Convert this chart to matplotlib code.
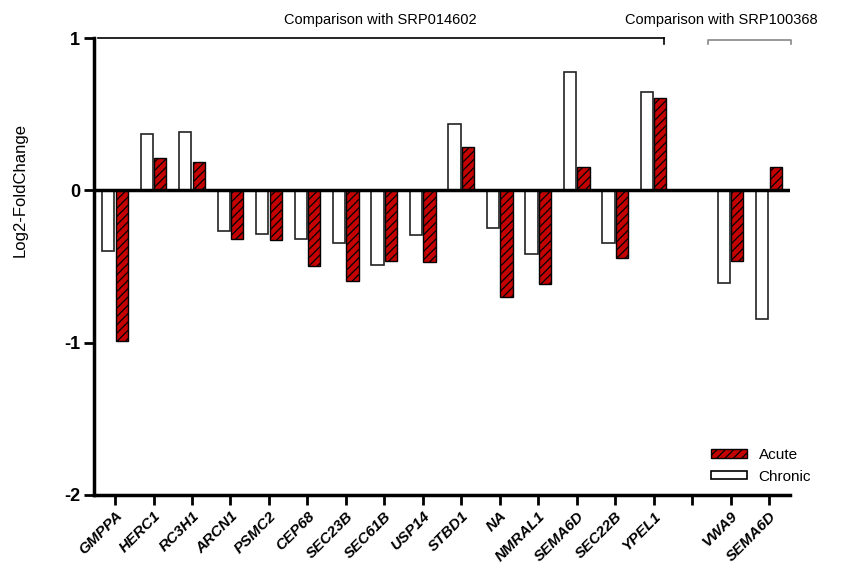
import matplotlib
matplotlib.use('Agg')
from matplotlib import pyplot as plt
from matplotlib.patches import Patch

plt.rcParams['font.family'] = ['Liberation Sans', 'DejaVu Sans']
plt.rcParams['hatch.linewidth'] = 0.9

genes = ['GMPPA', 'HERC1', 'RC3H1', 'ARCN1', 'PSMC2', 'CEP68', 'SEC23B', 'SEC61B',
         'USP14', 'STBD1', 'NA', 'NMRAL1', 'SEMA6D', 'SEC22B', 'YPEL1', 'VWA9', 'SEMA6D']

chronic = [-0.395, 0.367, 0.38, -0.268, -0.286, -0.317, -0.345, -0.493,
           -0.296, 0.438, -0.248, -0.42, 0.778, -0.347, 0.643, -0.606, -0.847]
acute = [-0.99, 0.214, 0.188, -0.319, -0.325, -0.496, -0.592, -0.467,
         -0.473, 0.287, -0.70, -0.613, 0.156, -0.445, 0.606, -0.464, 0.156]

# first 15 genes vs SRP014602, last 2 vs SRP100368 (one empty slot between)
pos = list(range(15)) + [16, 17]
tick_labels = genes[:15] + [''] + genes[15:]

red = '#c40000'
w = 0.32

fig, ax = plt.subplots(figsize=(8.46, 5.63), dpi=100)
fig.subplots_adjust(left=0.111, right=0.934, top=0.9325, bottom=0.1208)

ax.bar([p - 0.175 for p in pos], chronic, width=w, color='white',
       edgecolor='#222222', linewidth=1.2, zorder=2)
ax.bar([p + 0.175 for p in pos], acute, width=w, color=red,
       edgecolor='black', linewidth=1.0, hatch='////', zorder=2)

ax.axhline(0, color='black', lw=2.5, zorder=3)

ax.set_xlim(-0.55, 17.55)
ax.set_ylim(-2, 1)
ax.set_yticks([1, 0, -1, -2])
ax.set_yticklabels(['1', '0', '-1', '-2'], fontweight='bold', fontsize=13)
ax.set_xticks(range(18))
ax.set_xticklabels(tick_labels, rotation=45, ha='right', rotation_mode='anchor',
                   fontweight='bold', fontstyle='italic', fontsize=11)

for s in ['top', 'right']:
    ax.spines[s].set_visible(False)
for s in ['left', 'bottom']:
    ax.spines[s].set_linewidth(2.5)
ax.tick_params(axis='both', direction='out', length=7, width=2, pad=3)

ax.set_ylabel('Log2-FoldChange', fontsize=12)
ax.yaxis.set_label_coords(-0.095, 0.667)

# group brackets
ax.plot([-0.44, 14.26], [1.0, 1.0], color='black', lw=1.2, clip_on=False)
ax.plot([14.26, 14.26], [1.0, 0.96], color='black', lw=1.2, clip_on=False)
ax.text(6.9, 1.07, 'Comparison with SRP014602', ha='center', va='bottom', fontsize=10.5)

ax.plot([15.42, 15.42, 17.56, 17.56], [0.96, 0.99, 0.99, 0.96], color='#888888',
        lw=1.2, clip_on=False)
ax.text(15.75, 1.07, 'Comparison with SRP100368', ha='center', va='bottom', fontsize=10.5)

handles = [Patch(facecolor=red, edgecolor='black', hatch='////', label='Acute'),
           Patch(facecolor='white', edgecolor='black', linewidth=1.2, label='Chronic')]
ax.legend(handles=handles, loc='lower right', frameon=False, fontsize=11,
          handlelength=2.3, handleheight=0.45, labelspacing=0.5,
          bbox_to_anchor=(1.05, -0.005))

fig.savefig('out.png', dpi=100)
